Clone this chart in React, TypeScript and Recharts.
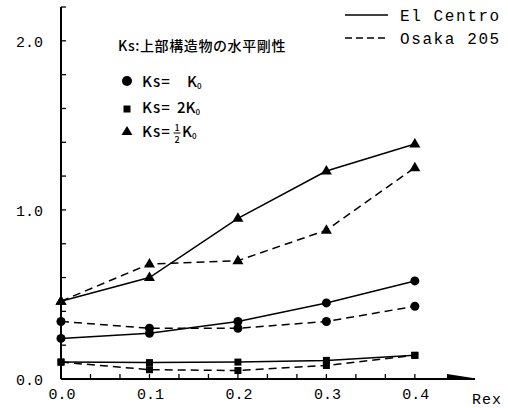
import { LineChart, Line, XAxis, YAxis } from "recharts";

// Rex values on the x axis
const rex = [0, 0.1, 0.2, 0.3, 0.4];

// El Centro (solid)
const elCentroK = [0.24, 0.27, 0.34, 0.45, 0.58];
const elCentro2K = [0.1, 0.097, 0.1, 0.11, 0.14];
const elCentroHalfK = [0.46, 0.6, 0.95, 1.23, 1.39];

// Osaka 205 (dashed)
const osakaK = [0.34, 0.3, 0.3, 0.34, 0.43];
const osaka2K = [0.1, 0.055, 0.05, 0.08, 0.14];
const osakaHalfK = [0.46, 0.68, 0.7, 0.88, 1.25];

const xTicks = Array.from({ length: 13 }, (_, i) => i / 30);
const yTicks = Array.from({ length: 12 }, (_, i) => i * 0.2);

const data = rex.map((r, i) => ({
  rex: r,
  ecK: elCentroK[i],
  ec2K: elCentro2K[i],
  ecHalf: elCentroHalfK[i],
  osK: osakaK[i],
  os2K: osaka2K[i],
  osHalf: osakaHalfK[i],
}));

const MONO = "'Liberation Mono', 'DejaVu Sans Mono', monospace";
const JP = "'Noto Sans CJK JP', sans-serif";

const isMajor = (v: number, step: number) =>
  Math.abs(v / step - Math.round(v / step)) < 1e-6;

const XTick = (props: any) => {
  const { x, payload } = props;
  const v = payload.value;
  return (
    <g>
      <line x1={x} x2={x} y1={379} y2={374} stroke="#000" strokeWidth={1.3} />
      {isMajor(v, 0.1) && (
        <text x={x + 1} y={399} textAnchor="middle" fontFamily={MONO} fontSize={15} fill="#000">
          {v.toFixed(1)}
        </text>
      )}
    </g>
  );
};

const YTick = (props: any) => {
  const { y, payload } = props;
  const v = payload.value;
  return (
    <g>
      <line x1={61} x2={66} y1={y} y2={y} stroke="#000" strokeWidth={1.3} />
      {isMajor(v, 1) && (
        <text x={43} y={y + 6} textAnchor="end" fontFamily={MONO} fontSize={15} fill="#000">
          {v.toFixed(1)}
        </text>
      )}
    </g>
  );
};

const circleDot = (props: any) => (
  <circle key={props.key} cx={props.cx} cy={props.cy} r={4.5} fill="#000" />
);
const squareDot = (props: any) => (
  <rect key={props.key} x={props.cx - 3.5} y={props.cy - 3.5} width={7} height={7} fill="#000" />
);
const triDot = (props: any) => (
  <polygon
    key={props.key}
    points={`${props.cx},${props.cy - 6} ${props.cx - 5.5},${props.cy + 3.5} ${props.cx + 5.5},${props.cy + 3.5}`}
    fill="#000"
  />
);

const DASH = "8 5";

export default function App() {
  return (
    <div style={{ position: "absolute", left: 0, top: 0, width: 508, height: 408, background: "#fff" }}>
      <LineChart width={508} height={408} data={data} margin={{ top: 7, right: 33, bottom: 28, left: 60 }}>
        <XAxis
          dataKey="rex"
          type="number"
          domain={[0, 0.468]}
          ticks={xTicks}
          interval={0}
          height={1}
          tickSize={0}
          tickMargin={0}
          tickLine={false}
          tick={XTick}
          axisLine={{ stroke: "#000", strokeWidth: 2 }}
        />
        <YAxis
          type="number"
          domain={[0, 2.2]}
          ticks={yTicks}
          interval={0}
          width={1}
          tickSize={0}
          tickMargin={0}
          tickLine={false}
          tick={YTick}
          axisLine={{ stroke: "#000", strokeWidth: 2 }}
        />
        <Line dataKey="ecHalf" stroke="#000" strokeWidth={1.5} dot={triDot} isAnimationActive={false} />
        <Line dataKey="osHalf" stroke="#000" strokeWidth={1.5} strokeDasharray={DASH} dot={triDot} isAnimationActive={false} />
        <Line dataKey="ecK" stroke="#000" strokeWidth={1.5} dot={circleDot} isAnimationActive={false} />
        <Line dataKey="osK" stroke="#000" strokeWidth={1.5} strokeDasharray={DASH} dot={circleDot} isAnimationActive={false} />
        <Line dataKey="ec2K" stroke="#000" strokeWidth={1.5} dot={squareDot} isAnimationActive={false} />
        <Line dataKey="os2K" stroke="#000" strokeWidth={1.5} strokeDasharray={DASH} dot={squareDot} isAnimationActive={false} />
      </LineChart>
      <svg width={508} height={408} style={{ position: "absolute", left: 0, top: 0, pointerEvents: "none" }}>
        {/* x axis arrow head */}
        <polygon points="447,374 476,378.5 447,380" fill="#000" />
        <text x={472} y={404} fontFamily={MONO} fontSize={15} letterSpacing={1} fill="#000">Rex</text>

        {/* line style legend */}
        <line x1={345} x2={388} y1={15} y2={15} stroke="#000" strokeWidth={1.5} />
        <text x={400} y={21} fontFamily={MONO} fontSize={16} letterSpacing={1.6} fill="#000">El Centro</text>
        <line x1={345} x2={388} y1={38} y2={38} stroke="#000" strokeWidth={1.5} strokeDasharray="7 4" />
        <text x={400} y={44} fontFamily={MONO} fontSize={16} letterSpacing={1.6} fill="#000">Osaka 205</text>

        {/* marker legend */}
        <text x={118} y={51} fontFamily={JP} fontSize={14} fontWeight={500} letterSpacing={0.6} fill="#000">
          Ks:上部構造物の水平剛性
        </text>
        <circle cx={127} cy={81} r={5} fill="#000" />
        <text x={142} y={87} fontFamily={JP} fontSize={15} fontWeight={500} letterSpacing={1} fill="#000">Ks=</text>
        <text x={187} y={87} fontFamily={JP} fontSize={15} fontWeight={500} fill="#000">
          K<tspan fontSize={8} dy={2}>0</tspan>
        </text>
        <rect x={123.5} y={105.5} width={7} height={7} fill="#000" />
        <text x={142} y={113} fontFamily={JP} fontSize={15} fontWeight={500} letterSpacing={1} fill="#000">Ks=</text>
        <text x={177} y={113} fontFamily={JP} fontSize={15} fontWeight={500} fill="#000">
          2K<tspan fontSize={8} dy={2}>0</tspan>
        </text>
        <polygon points="127,126 121.5,135 132.5,135" fill="#000" />
        <text x={142} y={137} fontFamily={JP} fontSize={15} fontWeight={500} letterSpacing={1} fill="#000">Ks=</text>
        <text x={177} y={131} textAnchor="middle" fontFamily={JP} fontSize={9} fontWeight={500} fill="#000">1</text>
        <line x1={173.5} x2={180.5} y1={133} y2={133} stroke="#000" strokeWidth={1} />
        <text x={177} y={143} textAnchor="middle" fontFamily={JP} fontSize={9} fontWeight={500} fill="#000">2</text>
        <text x={182} y={137} fontFamily={JP} fontSize={15} fontWeight={500} fill="#000">
          K<tspan fontSize={8} dy={2}>0</tspan>
        </text>
      </svg>
    </div>
  );
}
